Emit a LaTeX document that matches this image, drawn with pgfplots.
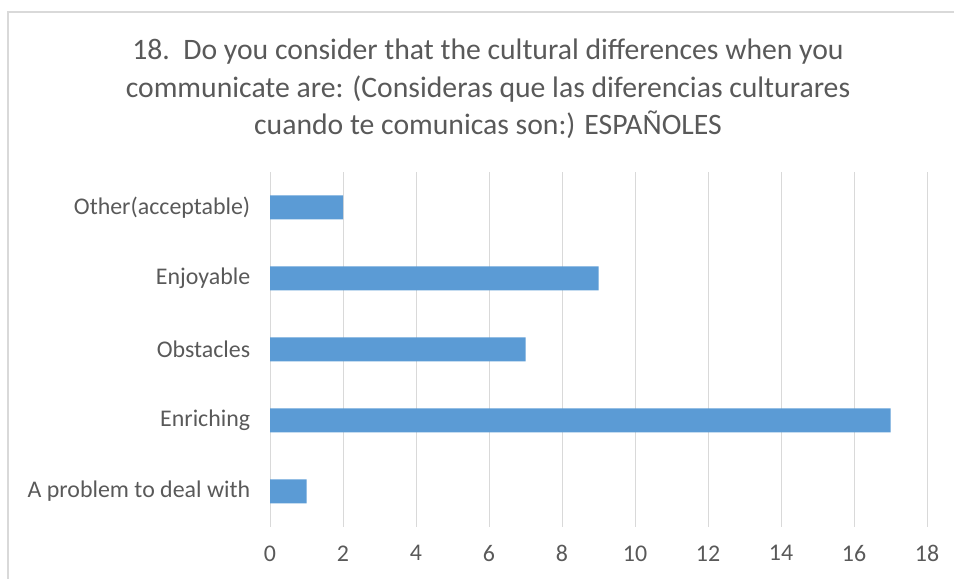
\documentclass[border=0pt]{standalone}
\usepackage{pgfplots}
\pgfplotsset{compat=1.18}
\usepackage{fontspec}
\setmainfont{Carlito}
\definecolor{barblue}{HTML}{5B9BD5}
\definecolor{gridgray}{HTML}{D9D9D9}
\definecolor{txtgray}{HTML}{595959}
\definecolor{bordergray}{HTML}{D9D9D9}
\begin{document}
\begin{tikzpicture}[x=1bp,y=1bp]
\path[use as bounding box] (0,0) rectangle (954,579);
\begin{scope}
\clip (0,0) rectangle (954,579);
\draw[bordergray, line width=1.2bp] (8,567) rectangle (970,-10);
\end{scope}
\node[align=center, text=txtgray, font=\fontsize{29.8}{37.5}\selectfont, anchor=center] at (488,490)
{18.\ \ Do you consider that the cultural differences when you\\communicate are: (Consideras que las diferencias culturares\\cuando te comunicas son:) ESPAÑOLES};
\begin{axis}[
  at={(270bp,52bp)}, anchor=south west,
  scale only axis, width=657bp, height=355bp,
  xmin=0, xmax=18, ymin=-0.5, ymax=4.5,
  xtick={0,2,...,18},
  ytick={0,1,2,3,4},
  yticklabels={A problem to deal with,Enriching\ ,Obstacles,Enjoyable,Other(acceptable)},
  xmajorgrids, major grid style={gridgray, line width=1bp},
  axis line style={draw=none},
  extra x ticks={0}, extra x tick labels={},
  extra x tick style={grid style={color=gridgray!80!black!100, line width=1bp}},
  tick style={draw=none},
  ticklabel style={text=txtgray, font=\fontsize{24}{28}\selectfont},
  xticklabel style={yshift=-15bp},
  yticklabel style={xshift=-12bp},
  /pgf/number format/assume math mode=true,
  xbar, bar width=24bp,
  clip=false,
]
\addplot[fill=barblue, draw=none] coordinates {(1,0) (17,1) (7,2) (9,3) (2,4)};
\end{axis}
\end{tikzpicture}
\end{document}
